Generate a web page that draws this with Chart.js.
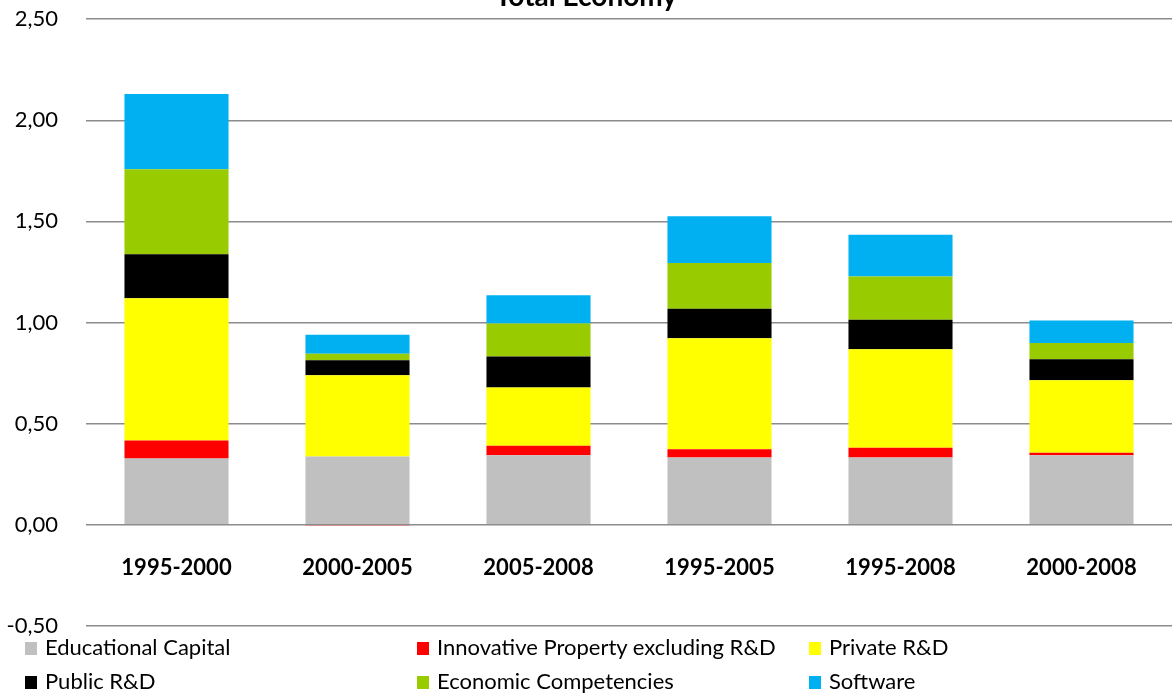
<!DOCTYPE html>
<html>
<head>
<meta charset="utf-8">
<script src="https://cdn.jsdelivr.net/npm/chart.js@4"></script>
<style>
  body { margin: 0; background: #fff; overflow: hidden; }
  #wrap { position: absolute; left: 0; top: -22px; width: 1172px; height: 689px; }
  #legend { position: absolute; left: 0; top: 634px; width: 1172px; height: 61px;
            font-family: Lato, "Open Sans", sans-serif; font-size: 22px; color: #000; }
  .item { position: absolute; height: 26px; line-height: 26px; white-space: nowrap; }
  .box { display: inline-block; width: 12px; height: 13px; margin-right: 8px; vertical-align: 0px; }
</style>
</head>
<body>
<div id="wrap"><canvas id="chart"></canvas></div>
<div id="legend"></div>
<script>
const periods = ['1995-2000', '2000-2005', '2005-2008', '1995-2005', '1995-2008', '2000-2008'];

const educationalCapital = [0.327, 0.337, 0.343, 0.332, 0.332, 0.343];
const innovativeProperty = [0.090, -0.005, 0.048, 0.041, 0.048, 0.013];
const privateRD          = [0.703, 0.402, 0.287, 0.549, 0.488, 0.358];
const publicRD           = [0.218, 0.074, 0.154, 0.146, 0.145, 0.104];
const economicComp       = [0.420, 0.032, 0.163, 0.226, 0.215, 0.080];
const software           = [0.372, 0.095, 0.140, 0.232, 0.206, 0.112];

const yTicks = [-0.5, 0, 0.5, 1, 1.5, 2, 2.5];

const series = [
  { label: 'Educational Capital', data: educationalCapital, color: '#C0C0C0' },
  { label: 'Innovative Property excluding R&D', data: innovativeProperty, color: '#FF0000' },
  { label: 'Private R&D', data: privateRD, color: '#FFFF00' },
  { label: 'Public R&D', data: publicRD, color: '#000000' },
  { label: 'Economic Competencies', data: economicComp, color: '#99CC00' },
  { label: 'Software', data: software, color: '#00B0F0' }
];

const font = "Lato, 'Open Sans', sans-serif";

const ctx = document.getElementById('chart').getContext('2d');
new Chart(ctx, {
  type: 'bar',
  data: {
    labels: periods,
    datasets: series.map(s => ({
      label: s.label,
      data: s.data,
      backgroundColor: s.color,
      borderWidth: 0,
      barPercentage: 0.575,
      categoryPercentage: 1.0
    }))
  },
  options: {
    responsive: true,
    maintainAspectRatio: false,
    animation: false,
    layout: { padding: { left: 0, right: 0, top: 0, bottom: 15 } },
    plugins: {
      legend: { display: false },
      tooltip: { enabled: false },
      title: {
        display: true,
        text: 'Total Economy',
        color: '#000',
        font: { family: font, size: 28, weight: 'bold' },
        padding: { top: 0, bottom: 5 }
      }
    },
    scales: {
      x: {
        stacked: true,
        position: { y: 0 },
        grid: { display: false, drawTicks: false },
        border: { display: false },
        ticks: {
          color: '#000',
          padding: 30,
          font: { family: font, size: 22, weight: 'bold' }
        }
      },
      y: {
        stacked: true,
        min: -0.5,
        max: 2.5,
        afterBuildTicks: axis => { axis.ticks = yTicks.map(v => ({ value: v })); },
        afterFit: axis => { axis.width = 86; },
        grid: { color: '#8C8C8C', lineWidth: 1.5, drawTicks: false },
        border: { display: false },
        ticks: {
          color: '#000',
          padding: 28,
          font: { family: font, size: 22 },
          callback: v => v.toFixed(2).replace('.', ',')
        }
      }
    }
  }
});

// legend in three columns like the original
const legendPos = [[25, 0], [417, 0], [809, 0], [25, 34], [417, 34], [809, 34]];
const legend = document.getElementById('legend');
series.forEach((s, i) => {
  const el = document.createElement('div');
  el.className = 'item';
  el.style.left = legendPos[i][0] + 'px';
  el.style.top = legendPos[i][1] + 'px';
  el.innerHTML = '<span class="box" style="background:' + s.color + '"></span>' + s.label.replace('&', '&amp;');
  legend.appendChild(el);
});
</script>
</body>
</html>
